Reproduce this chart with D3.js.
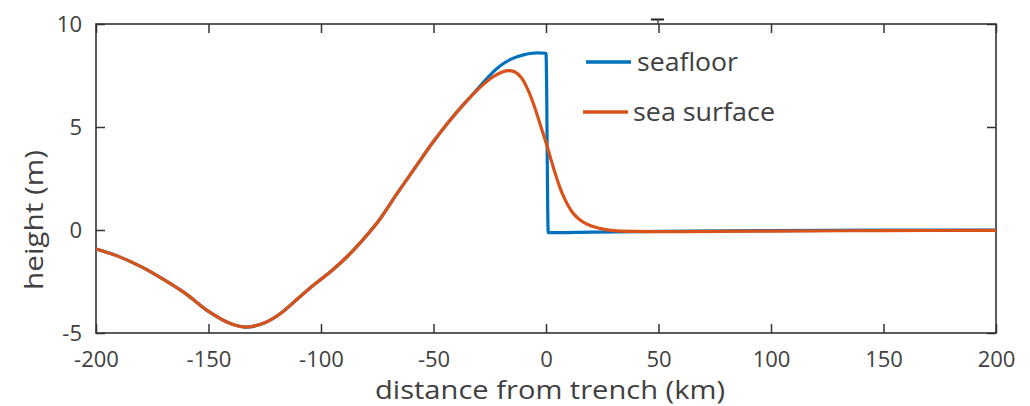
<!DOCTYPE html>
<html>
<head>
<meta charset="utf-8">
<script src="https://cdn.jsdelivr.net/npm/d3@7"></script>
<style>
  html, body { margin: 0; padding: 0; background: #fff; }
  svg { display: block; }
  text { font-family: "Open Sans", "Noto Sans", sans-serif; fill: #404040; }
</style>
</head>
<body>
<svg id="chart" width="1030" height="406"></svg>
<script>
// ---- data ----
const surfaceDistance = [-200, -190, -180, -170, -160, -150, -140, -133, -125, -118, -110, -103, -95, -88, -82, -74, -66, -58, -51, -44, -37, -30, -24, -20, -17, -14, -11, -8, -5, -2, 0, 2, 4, 6, 8, 10, 12, 15, 18, 22, 26, 30, 40, 60, 100, 150, 200];
const surfaceHeight   = [-0.92, -1.28, -1.78, -2.4, -3.1, -3.95, -4.55, -4.71, -4.5, -4.05, -3.3, -2.65, -1.95, -1.25, -0.55, 0.5, 1.8, 3.05, 4.15, 5.15, 6.05, 6.85, 7.4, 7.65, 7.74, 7.68, 7.4, 6.8, 5.95, 4.93, 4.25, 3.5, 2.78, 2.12, 1.58, 1.15, 0.82, 0.5, 0.3, 0.13, 0.03, -0.03, -0.07, -0.08, -0.05, -0.03, -0.02];

const seafloorDistance = [-200, -190, -180, -170, -160, -150, -140, -133, -125, -118, -110, -103, -95, -88, -82, -74, -66, -58, -51, -44, -37, -32, -28, -24, -20, -15, -10, -7, -4, 0, 1, 20, 50, 100, 150, 200];
const seafloorHeight   = [-0.92, -1.28, -1.78, -2.4, -3.1, -3.95, -4.55, -4.71, -4.5, -4.05, -3.3, -2.65, -1.95, -1.25, -0.55, 0.5, 1.8, 3.05, 4.15, 5.15, 6.05, 6.65, 7.15, 7.62, 8.0, 8.32, 8.5, 8.57, 8.6, 8.58, -0.13, -0.1, -0.07, -0.03, -0.01, 0];

const xTicks = [-200, -150, -100, -50, 0, 50, 100, 150, 200];
const yTicks = [-5, 0, 5, 10];
const seriesNames = ["seafloor", "sea surface"];
const seriesColors = ["#0072BD", "#D95319"];

// ---- layout ----
const svg = d3.select("#chart");
const mLeft = 96, mRight = 996, mTop = 24, mBottom = 333;

const x = d3.scaleLinear().domain([-200, 200]).range([mLeft, mRight]);
const y = d3.scaleLinear().domain([-5, 10]).range([mBottom, mTop]);

const axisColor = "#333";
const tickLen = 9;
const fmt = d => String(d); // plain hyphen-minus, as in the reference

// axes (box with inward ticks on all four sides)
const gB = svg.append("g").attr("transform", `translate(0,${mBottom})`)
  .call(d3.axisBottom(x).tickValues(xTicks).tickSize(-tickLen).tickPadding(18).tickFormat(fmt));
const gT = svg.append("g").attr("transform", `translate(0,${mTop})`)
  .call(d3.axisTop(x).tickValues(xTicks).tickSize(-tickLen).tickFormat(""));
const gL = svg.append("g").attr("transform", `translate(${mLeft},0)`)
  .call(d3.axisLeft(y).tickValues(yTicks).tickSize(-tickLen).tickPadding(14).tickFormat(fmt));
const gR = svg.append("g").attr("transform", `translate(${mRight},0)`)
  .call(d3.axisRight(y).tickValues(yTicks).tickSize(-tickLen).tickFormat(""));

[gB, gT, gL, gR].forEach(g => {
  g.select(".domain").remove();
  g.selectAll(".tick line").attr("stroke", axisColor).attr("stroke-width", 1.5);
  g.selectAll(".tick text").attr("fill", "#404040").style("font-size", "22px")
    .style("font-family", "'Open Sans', 'Noto Sans', sans-serif");
});

// box
svg.append("rect")
  .attr("x", mLeft).attr("y", mTop)
  .attr("width", mRight - mLeft).attr("height", mBottom - mTop)
  .attr("fill", "none").attr("stroke", axisColor).attr("stroke-width", 1.6);

// lines
const floorLine = d3.line().curve(d3.curveMonotoneX);
const surfLine = d3.line().curve(d3.curveCatmullRom.alpha(0.5));
const floorPts = seafloorDistance.map((d, i) => [x(d), y(seafloorHeight[i])]);
const surfPts = surfaceDistance.map((d, i) => [x(d), y(surfaceHeight[i])]);

svg.append("path").attr("d", floorLine(floorPts))
  .attr("fill", "none").attr("stroke", seriesColors[0]).attr("stroke-width", 3.2)
  .attr("stroke-linejoin", "round");
svg.append("path").attr("d", surfLine(surfPts))
  .attr("fill", "none").attr("stroke", seriesColors[1]).attr("stroke-width", 3.2)
  .attr("stroke-linejoin", "round");

// small mark above the top axis (present in reference)
svg.append("line").attr("x1", 651).attr("x2", 664).attr("y1", 19.5).attr("y2", 19.5)
  .attr("stroke", "#222").attr("stroke-width", 2);
svg.append("line").attr("x1", 658).attr("x2", 658).attr("y1", 19.5).attr("y2", 24)
  .attr("stroke", "#444").attr("stroke-width", 1.5);

// legend
const legend = [
  { name: seriesNames[0], color: seriesColors[0], x1: 586, x2: 631, ly: 62, tx: 637, w: 101 },
  { name: seriesNames[1], color: seriesColors[1], x1: 583, x2: 628, ly: 112, tx: 633, w: 142 }
];
legend.forEach(l => {
  svg.append("line").attr("x1", l.x1).attr("x2", l.x2).attr("y1", l.ly).attr("y2", l.ly)
    .attr("stroke", l.color).attr("stroke-width", 3.5);
  svg.append("text").attr("x", l.tx).attr("y", l.ly).attr("dy", "0.35em")
    .attr("textLength", l.w).attr("lengthAdjust", "spacingAndGlyphs")
    .style("font-size", "25px").attr("fill", "#262626").text(l.name);
});

// axis labels
svg.append("text").attr("x", 375).attr("y", 399)
  .attr("textLength", 350).attr("lengthAdjust", "spacingAndGlyphs")
  .style("font-size", "25px").text("distance from trench (km)");
svg.append("text").attr("transform", "translate(43,290) rotate(-90)")
  .attr("textLength", 140).attr("lengthAdjust", "spacingAndGlyphs")
  .style("font-size", "25px").text("height (m)");
</script>
</body>
</html>
